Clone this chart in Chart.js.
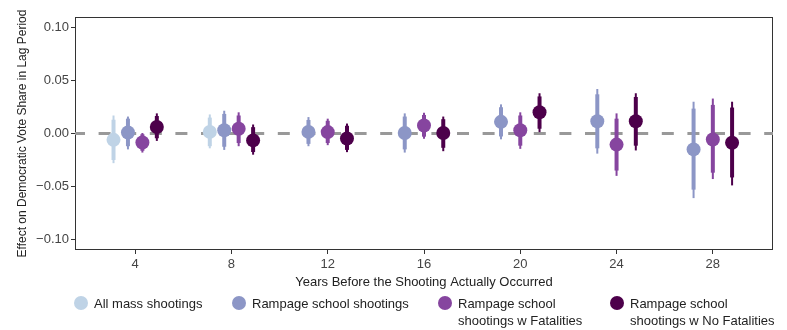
<!DOCTYPE html>
<html>
<head>
<meta charset="utf-8">
<script src="https://cdn.jsdelivr.net/npm/chart.js@4.4.0/dist/chart.umd.min.js"></script>
<style>
  html, body { margin: 0; padding: 0; background: #fff; }
  #wrap { position: relative; width: 787px; height: 330px; overflow: hidden; }
  #chart { position: absolute; left: 0; top: 0; }
  .lg-dot { position: absolute; width: 14px; height: 14px; border-radius: 50%; }
  .lg-text { position: absolute; font-family: "Liberation Sans", Arial, sans-serif; font-size: 13px;
             line-height: 17px; color: #222; white-space: nowrap; }
</style>
</head>
<body>
<div id="wrap">
  <canvas id="chart" width="787" height="330"></canvas>
  <div id="legend"></div>
</div>
<script>
// Lag lengths (years before the shooting)
const lags = [4, 8, 12, 16, 20, 24, 28];

// Y-axis ticks
const yTickValues = [-0.10, -0.05, 0.00, 0.05, 0.10];
const yTickLabels = ["\u22120.10", "\u22120.05", "0.00", "0.05", "0.10"];

// Series names
const seriesNames = [
  "All mass shootings",
  "Rampage school shootings",
  "Rampage school shootings w Fatalities",
  "Rampage school shootings w No Fatalities"
];
const legendLines = [
  ["All mass shootings"],
  ["Rampage school shootings"],
  ["Rampage school", "shootings w Fatalities"],
  ["Rampage school", "shootings w No Fatalities"]
];

// Point estimates (null = not estimated at that lag)
const allMassEst   = [-0.006, 0.0015, null, null, null, null, null];
const rampageEst   = [0.001, 0.003, 0.0015, 0.0005, 0.011, 0.0115, -0.015];
const fatalEst     = [-0.0085, 0.0045, 0.0013, 0.0075, 0.003, -0.0105, -0.0057];
const noFatalEst   = [0.0062, -0.0065, -0.0047, 0.0005, 0.020, 0.0115, -0.0088];

// Outer (95%) interval bounds
const allMassLo95  = [-0.028, -0.014, null, null, null, null, null];
const allMassHi95  = [0.017, 0.018, null, null, null, null, null];
const rampageLo95  = [-0.015, -0.0155, -0.012, -0.018, -0.0055, -0.019, -0.061];
const rampageHi95  = [0.016, 0.0215, 0.0155, 0.019, 0.0275, 0.042, 0.030];
const fatalLo95    = [-0.018, -0.012, -0.011, -0.005, -0.0145, -0.040, -0.043];
const fatalHi95    = [0.0005, 0.020, 0.014, 0.0195, 0.020, 0.019, 0.033];
const noFatalLo95  = [-0.007, -0.020, -0.0176, -0.0167, 0.0013, -0.016, -0.049];
const noFatalHi95  = [0.019, 0.0085, 0.0094, 0.016, 0.038, 0.038, 0.030];

// Inner (90%) interval bounds
const allMassLo90  = [-0.025, -0.012, null, null, null, null, null];
const allMassHi90  = [0.013, 0.015, null, null, null, null, null];
const rampageLo90  = [-0.012, -0.0125, -0.0098, -0.015, -0.0028, -0.014, -0.053];
const rampageHi90  = [0.014, 0.0185, 0.0128, 0.016, 0.0248, 0.037, 0.0235];
const fatalLo90    = [-0.0163, -0.009, -0.009, -0.003, -0.0115, -0.035, -0.037];
const fatalHi90    = [-0.0007, 0.017, 0.012, 0.0175, 0.017, 0.014, 0.027];
const noFatalLo90  = [-0.0045, -0.0175, -0.0155, -0.0135, 0.0045, -0.0115, -0.0415];
const noFatalHi90  = [0.0165, 0.006, 0.0073, 0.0135, 0.035, 0.0345, 0.0245];

const colors = ["#bfd3e6", "#8c96c6", "#86459f", "#4d004b"];

// Horizontal dodge (in years) when 4 or 3 series share a lag
const dodge4 = [-0.9, -0.3, 0.3, 0.9];
const dodge3 = [null, -0.8, 0.0, 0.8];

const seriesTables = [
  [allMassEst, allMassLo95, allMassHi95, allMassLo90, allMassHi90],
  [rampageEst, rampageLo95, rampageHi95, rampageLo90, rampageHi90],
  [fatalEst, fatalLo95, fatalHi95, fatalLo90, fatalHi90],
  [noFatalEst, noFatalLo95, noFatalHi95, noFatalLo90, noFatalHi90]
];

const FONT = "'Liberation Sans', Arial, Helvetica, sans-serif";

const datasets = [];
// dashed reference line at zero
datasets.push({
  type: "line",
  data: [{ x: 1.5, y: 0 }, { x: 30.5, y: 0 }],
  borderColor: "#999999",
  borderWidth: 3,
  borderDash: [12, 13.6],
  borderDashOffset: 2,
  pointRadius: 0,
  order: 10
});

seriesTables.forEach((t, s) => {
  const [est, lo95, hi95, lo90, hi90] = t;
  const pts = [], ci = [];
  lags.forEach((lag, i) => {
    if (est[i] === null) return;
    const full = allMassEst[i] !== null;
    const off = full ? dodge4[s] : dodge3[s];
    pts.push({ x: lag + off, y: est[i] });
    ci.push([lo95[i], hi95[i], lo90[i], hi90[i]]);
  });
  datasets.push({
    type: "scatter",
    label: seriesNames[s],
    data: pts,
    ci: ci,
    backgroundColor: colors[s],
    borderWidth: 0,
    pointRadius: 7,
    pointHoverRadius: 7,
    order: 4 - s
  });
});

// Interval bars, drawn just beneath each series' points
const errorBars = {
  id: "errorBars",
  beforeDatasetDraw(chart, args) {
    const ds = chart.data.datasets[args.index];
    if (!ds.ci) return;
    const yScale = chart.scales.y;
    const ctx = chart.ctx;
    ctx.save();
    ctx.strokeStyle = ds.backgroundColor;
    ctx.lineCap = "butt";
    args.meta.data.forEach((pt, i) => {
      const [l95, h95, l90, h90] = ds.ci[i];
      ctx.lineWidth = 2;
      ctx.beginPath();
      ctx.moveTo(pt.x, yScale.getPixelForValue(l95));
      ctx.lineTo(pt.x, yScale.getPixelForValue(h95));
      ctx.stroke();
      ctx.lineWidth = 4;
      ctx.beginPath();
      ctx.moveTo(pt.x, yScale.getPixelForValue(l90));
      ctx.lineTo(pt.x, yScale.getPixelForValue(h90));
      ctx.stroke();
    });
    ctx.restore();
  }
};

// Panel frame
const frame = {
  id: "frame",
  beforeDatasetsDraw(chart) {
    const a = chart.chartArea;
    const ctx = chart.ctx;
    ctx.save();
    ctx.strokeStyle = "#333";
    ctx.lineWidth = 1;
    ctx.strokeRect(Math.round(a.left) + 0.5, Math.round(a.top) + 0.5,
                   Math.round(a.right - a.left) - 1, Math.round(a.bottom - a.top) - 1);
    ctx.restore();
  }
};

new Chart(document.getElementById("chart"), {
  type: "scatter",
  data: { datasets },
  plugins: [errorBars, frame],
  options: {
    responsive: false,
    animation: false,
    events: [],
    layout: { padding: { left: 0, top: 17, right: 14, bottom: 40 } },
    plugins: { legend: { display: false }, tooltip: { enabled: false } },
    scales: {
      x: {
        type: "linear",
        min: 1.5,
        max: 30.5,
        afterBuildTicks: (s) => { s.ticks = lags.map(v => ({ value: v })); },
        afterFit: (s) => { s.height = 40; },
        grid: { drawOnChartArea: false, drawTicks: true, tickLength: 4, color: "#333" },
        border: { display: false },
        ticks: { font: { family: FONT, size: 13 }, color: "#444", padding: 3, maxRotation: 0,
                 callback: (v) => String(v) },
        title: { display: true, text: "Years Before the Shooting Actually Occurred",
                 font: { family: FONT, size: 13 }, color: "#222", padding: { top: 0, bottom: 0 } }
      },
      y: {
        min: -0.11,
        max: 0.11,
        afterBuildTicks: (s) => { s.ticks = yTickValues.map(v => ({ value: v })); },
        afterFit: (s) => { s.width = 75; },
        grid: { drawOnChartArea: false, drawTicks: true, tickLength: 4, color: "#333" },
        border: { display: false },
        ticks: { font: { family: FONT, size: 13 }, color: "#444", padding: 2,
                 callback: (v) => yTickLabels[yTickValues.findIndex(t => Math.abs(t - v) < 1e-9)] },
        title: { display: true, text: "Effect on Democratic Vote Share in Lag Period",
                 font: { family: FONT, size: 12 }, color: "#222", padding: { top: 15, bottom: 0 } }
      }
    }
  }
});

// Legend below the plot
const legendEl = document.getElementById("legend");
const legendDotX = [81, 239, 445, 617];
const legendRowY = 303;
legendLines.forEach((lines, s) => {
  const dot = document.createElement("div");
  dot.className = "lg-dot";
  dot.style.left = (legendDotX[s] - 7) + "px";
  dot.style.top = (legendRowY - 7) + "px";
  dot.style.background = colors[s];
  legendEl.appendChild(dot);
  const txt = document.createElement("div");
  txt.className = "lg-text";
  txt.style.left = (legendDotX[s] + 13) + "px";
  txt.style.top = (legendRowY - 8.5) + "px";
  txt.innerHTML = lines.join("<br>");
  legendEl.appendChild(txt);
});
</script>
</body>
</html>
